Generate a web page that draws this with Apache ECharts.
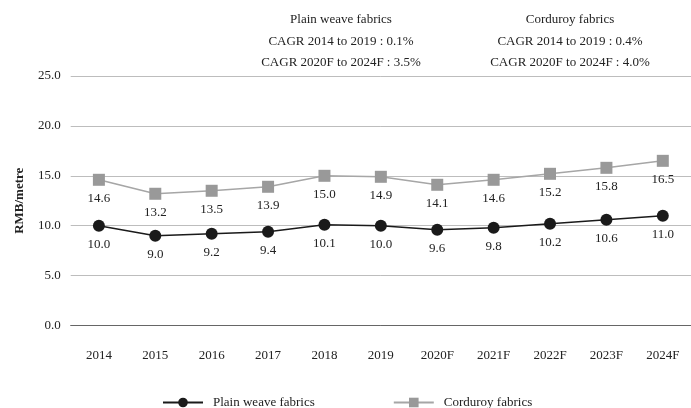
<!DOCTYPE html>
<html><head><meta charset="utf-8">
<script src="https://cdn.jsdelivr.net/npm/echarts@6/dist/echarts.min.js"></script>
<style>html,body{margin:0;padding:0;background:#fff}#c{width:691px;height:408px}</style>
</head><body><div id="c"></div>
<script>
const categories = ['2014','2015','2016','2017','2018','2019','2020F','2021F','2022F','2023F','2024F'];
const plainWeave = [10.0, 9.0, 9.2, 9.4, 10.1, 10.0, 9.6, 9.8, 10.2, 10.6, 11.0];
const corduroy = [14.6, 13.2, 13.5, 13.9, 15.0, 14.9, 14.1, 14.6, 15.2, 15.8, 16.5];
const yTicks = [0, 5, 25];
const plainNote = ['Plain weave fabrics', 'CAGR 2014 to 2019 : 0.1%', 'CAGR 2020F to 2024F : 3.5%'];
const cordNote = ['Corduroy fabrics', 'CAGR 2014 to 2019 : 0.4%', 'CAGR 2020F to 2024F : 4.0%'];

const FONT = '"Liberation Serif", "Times New Roman", serif';
const chart = echarts.init(document.getElementById('c'));
function note(lines, x) {
  return lines.map((t, i) => ({
    type: 'text', x: x, y: 20 + i * 21.5,
    style: { text: t, font: '13px ' + FONT, fill: '#222', textAlign: 'center', textVerticalAlign: 'middle' }
  }));
}
chart.setOption({
  animation: false,
  textStyle: { fontFamily: FONT },
  grid: { left: 70.7, right: -10, top: 76, bottom: 82.5, containLabel: false },
  xAxis: {
    type: 'category', data: categories, boundaryGap: true,
    axisLine: { lineStyle: { color: '#666', width: 1 } },
    axisTick: { inside: true, length: 5, lineStyle: { color: '#666' } },
    axisLabel: { color: '#222', fontSize: 13, fontFamily: FONT, margin: 24 }
  },
  yAxis: {
    type: 'value', min: yTicks[0], max: yTicks[2], interval: yTicks[1],
    name: 'RMB/metre', nameLocation: 'middle', nameGap: 45, nameRotate: 90,
    nameTextStyle: { fontWeight: 'bold', fontSize: 13, color: '#222', fontFamily: FONT },
    axisLine: { show: false }, axisTick: { show: false },
    axisLabel: { color: '#222', fontSize: 13, fontFamily: FONT, margin: 10, formatter: v => v.toFixed(1) },
    splitLine: { lineStyle: { color: '#bdbdbd', width: 1 } }
  },
  legend: {
    top: 391, left: 157, itemWidth: 40, itemHeight: 12, itemGap: 78,
    textStyle: { color: '#222', fontSize: 13, fontFamily: FONT, padding: [0, 0, 0, 5] },
    data: ['Plain weave fabrics', 'Corduroy fabrics']
  },
  series: [
    {
      name: 'Plain weave fabrics', type: 'line', data: plainWeave,
      symbol: 'circle', symbolSize: 12,
      lineStyle: { color: '#1a1a1a', width: 1.5 },
      itemStyle: { color: '#1a1a1a' },
      label: { show: true, position: 'bottom', distance: 6, color: '#222', fontSize: 13, fontFamily: FONT, formatter: p => p.value.toFixed(1) }
    },
    {
      name: 'Corduroy fabrics', type: 'line', data: corduroy,
      symbol: 'rect', symbolSize: 12,
      lineStyle: { color: '#a6a6a6', width: 1.5 },
      itemStyle: { color: '#999999' },
      label: { show: true, position: 'bottom', distance: 6, color: '#222', fontSize: 13, fontFamily: FONT, formatter: p => p.value.toFixed(1) }
    }
  ],
  graphic: [...note(plainNote, 341), ...note(cordNote, 570)]
});
</script></body></html>
